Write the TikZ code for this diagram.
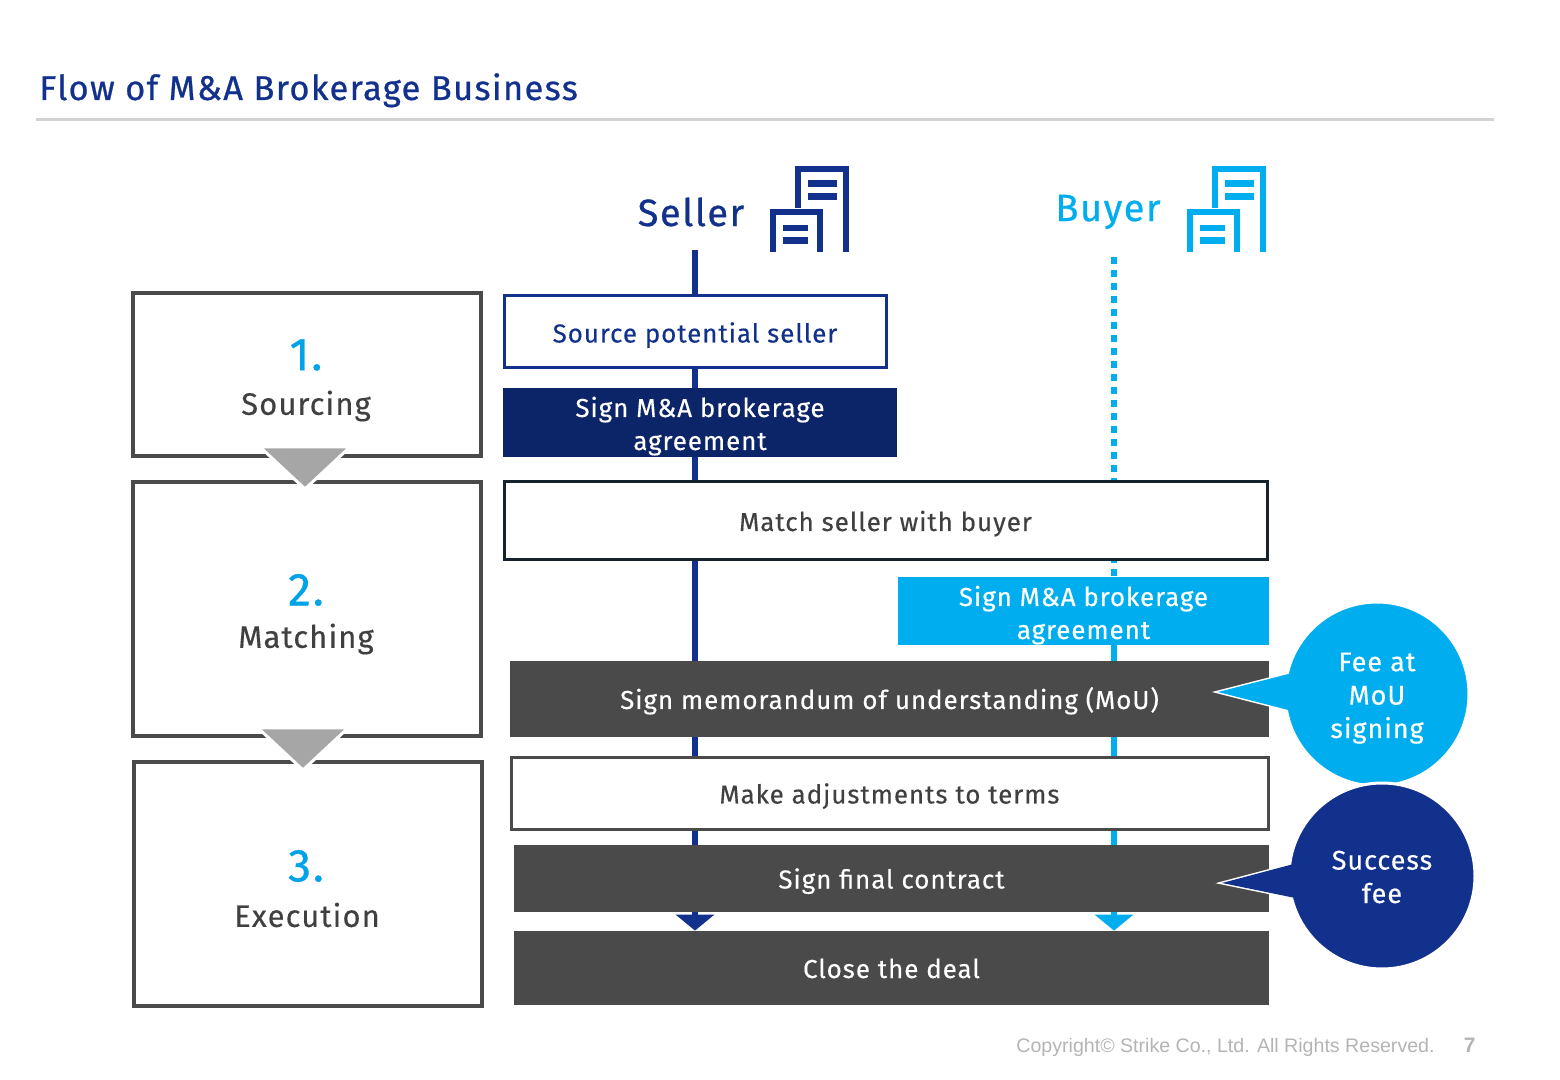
\documentclass[tikz,border=0pt]{standalone}
\usepackage{fontspec}
\setmainfont{Fira Sans}[LetterSpace=3.5, FakeBold=0.3]
\newfontfamily\titlefont{Fira Sans}[LetterSpace=4, FakeBold=0.7]
\newfontfamily\arialfont{Liberation Sans}
\usetikzlibrary{arrows.meta,backgrounds}
\definecolor{navy}{HTML}{12318D}
\definecolor{darknavy}{HTML}{0C2468}
\definecolor{cyanc}{HTML}{00AEEF}
\definecolor{numcyan}{HTML}{00A3E8}
\definecolor{dgray}{HTML}{4A4A4A}
\definecolor{tgray}{HTML}{404040}
\definecolor{rulegray}{HTML}{D2D2D2}
\definecolor{trigray}{HTML}{A6A6A6}
\definecolor{matchborder}{HTML}{16222E}
\definecolor{copygray}{HTML}{B4B4B4}
\begin{document}
\begin{tikzpicture}[x=0.5pt,y=-0.5pt,
  boxtext/.style={font=\fontsize{13}{16.5}\selectfont, align=center, inner sep=0pt},
  oneline/.style={text height=11pt, text depth=1pt},
  multiline/.style={text height=#1, text depth=1pt},
  wbox/.style={boxtext, oneline, draw=dgray, line width=1.5pt, fill=white, text=tgray},
  gbox/.style={boxtext, oneline, fill=dgray, text=white},
  stagebox/.style={draw=dgray, line width=2pt, fill=white, inner sep=0pt},
  stagenum/.style={font=\titlefont\fontsize{23}{23}\selectfont, text=numcyan, inner sep=0pt},
  stagelbl/.style={font=\fontsize{15.5}{15.5}\selectfont, text=tgray, inner sep=0pt},
  stagetri/.style={fill=trigray, draw=white, line width=1.5pt, line join=miter},
  sline/.style={draw=navy, line width=3pt},
  bline/.style={draw=cyanc, line width=3pt},
  bdots/.style={bline, dash pattern=on 3.5pt off 3pt},
  tip/.style={-{Triangle[width=19pt,length=8pt]}},
  bubble/.style={circle, draw=white, line width=1.5pt, text=white, align=center, inner sep=0pt, font=\fontsize{13.5}{16.7}\selectfont},
  icon/.style={line width=3pt, line cap=butt, line join=miter},
]
\useasboundingbox (0,0) rectangle (1560,1080);

% title
\node[anchor=base west, inner sep=0pt, text=navy, font=\titlefont\fontsize{17.2}{17.2}\selectfont] (title) at (39,100) {Flow of M\&A Brokerage Business};
\coordinate (ruleL) at (36,120);
\coordinate (ruleR) at (1494,120);
\draw[rulegray, line width=1.5pt] (ruleL) -- (ruleR);

% column heads
\node[text=navy, font=\titlefont\fontsize{19}{19}\selectfont, inner sep=0pt] (seller) at (691,212) {Seller};
\node[text=cyanc, font=\titlefont\fontsize{19}{19}\selectfont, inner sep=0pt] (buyer) at (1108,212) {Buyer};

% building icons
\foreach \dx/\col in {0/navy, 417/cyanc} {
  \begin{scope}[xshift=\dx*0.5pt]
    \draw[icon, \col] (798,208) -- (798,169) -- (846,169) -- (846,252);
    \draw[icon, \col] (773,252) -- (773,212) -- (820,212) -- (820,252);
    \fill[\col] (808,180) rectangle (837,187);
    \fill[\col] (808,193) rectangle (837,200);
    \fill[\col] (783,225) rectangle (808,231);
    \fill[\col] (783,237) rectangle (808,244);
  \end{scope}
}

% flow boxes
\node[boxtext, oneline, text height=11.5pt, draw=navy, line width=1.5pt, fill=white, text=navy, minimum width=191pt, minimum height=36pt] (src) at (695,332) {Source potential seller};
\node[boxtext, multiline=28.5pt, fill=darknavy, text=white, minimum width=197pt, minimum height=34.5pt] (sagS) at (700,422.5) {Sign M\&A brokerage\\agreement};
\node[wbox, draw=matchborder, minimum width=381.5pt, minimum height=39pt] (match) at (885.5,521) {Match seller with buyer};
\node[boxtext, multiline=29pt, fill=cyanc, text=white, minimum width=185.5pt, minimum height=34pt] (sagB) at (1083.5,611) {Sign M\&A brokerage\\agreement};
\node[gbox, minimum width=379.5pt, minimum height=38pt] (mou) at (889.5,699) {Sign memorandum of understanding (MoU)};
\node[wbox, minimum width=378.5pt, minimum height=35.5pt] (adj) at (889.5,793.5) {Make adjustments to terms};
\node[gbox, minimum width=377.5pt, minimum height=33.5pt] (fin) at (891.5,878.5) {Sign final contract};
\node[gbox, minimum width=377.5pt, minimum height=37pt] (close) at (891.5,968) {Close the deal};

% timelines
\coordinate (sTop) at (695,250);
\coordinate (bTop) at (1114,257);
\begin{pgfonlayer}{background}
  \draw[sline, tip] (sTop) -- (sTop |- close.north);
  \draw[bdots] (bTop) -- (bTop |- sagB.center);
  \draw[bline, tip] (bTop |- sagB.center) -- (bTop |- close.north);
\end{pgfonlayer}

% stage boxes
\node[stagebox, minimum width=174pt, minimum height=81.5pt] (st1) at (307,374.5) {};
\node[stagebox, minimum width=174pt, minimum height=127pt] (st2) at (307,609) {};
\node[stagebox, minimum width=174pt, minimum height=122pt] (st3) at (308,884) {};
\node[stagenum] (n1) at (306,355) {1.};
\node[stagelbl] (l1) at (306,406) {Sourcing};
\node[stagenum] (n2) at (306,590) {2.};
\node[stagelbl] (l2) at (306,639) {Matching};
\node[stagenum] (n3) at (306,866) {3.};
\node[stagelbl] (l3) at (307,915) {Execution};
\draw[stagetri] (260,447) -- (350,447) -- (305,489) -- cycle;
\draw[stagetri] (258,728) -- (348,728) -- (303,770) -- cycle;

% fee bubbles
\draw[fill=cyanc, draw=white, line width=1.5pt, line join=miter] (1218,692) -- (1300,671) -- (1300,713) -- cycle;
\node[bubble, fill=cyanc, minimum size=92pt, text height=45pt, text depth=1pt] (fee) at (1377,694) {Fee at\\MoU\\signing};
\fill[cyanc] (1218,692) -- (1300,671) -- (1300,713) -- cycle;
\draw[fill=navy, draw=white, line width=1.5pt, line join=miter] (1222,883) -- (1305,861) -- (1305,900) -- cycle;
\node[bubble, fill=navy, minimum size=93pt, text height=28pt, text depth=1pt] (succ) at (1382,876) {Success\\fee};
\fill[navy] (1222,883) -- (1305,861) -- (1305,900) -- cycle;

% footer
\node[anchor=base east, inner sep=0pt, text=copygray, font=\arialfont\fontsize{9.8}{9.8}\selectfont] (copy) at (1435,1052) {Copyright© Strike Co., Ltd. All Rights Reserved.};
\node[anchor=base east, inner sep=0pt, text=copygray, font=\arialfont\bfseries\fontsize{10.5}{10.5}\selectfont] (page) at (1476,1052) {7};
\end{tikzpicture}
\end{document}
